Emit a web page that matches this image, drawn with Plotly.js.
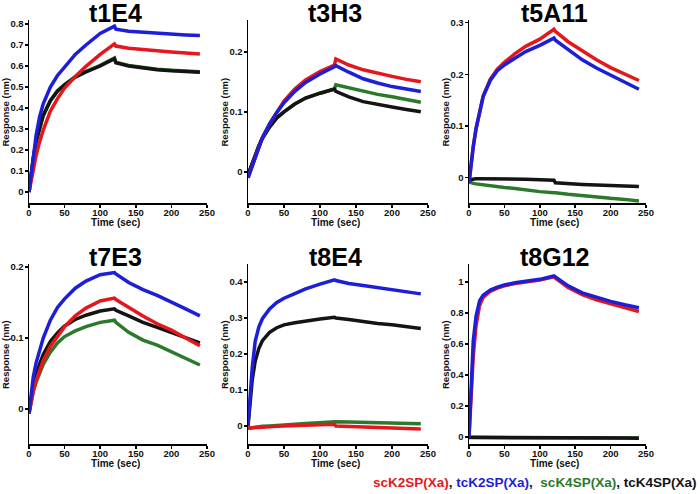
<!DOCTYPE html>
<html>
<head>
<meta charset="utf-8">
<script src="https://cdn.plot.ly/plotly-3.0.1.min.js"></script>
<style>
  body { margin: 0; background: #fff; }
  #plot { width: 700px; height: 494px; }
</style>
</head>
<body>
<div id="plot"></div>
<script>
// sample times (sec), association 0-120, dissociation 120-240
const time = [0, 3, 6, 10, 15, 20, 30, 40, 50, 65, 80, 100, 120, 122, 140, 160, 180, 200, 220, 240];

const panelNames = ['t1E4', 't3H3', 't5A11', 't7E3', 't8E4', 't8G12'];
const seriesNames = ['scK2SP(Xa)', 'tcK2SP(Xa)', 'scK4SP(Xa)', 'tcK4SP(Xa)'];

// one row per panel, in panelNames order
const scK2SP = [
  [0, 0.055, 0.11, 0.175, 0.24, 0.295, 0.385, 0.445, 0.495, 0.55, 0.598, 0.655, 0.705, 0.695, 0.685, 0.678, 0.672, 0.667, 0.662, 0.657],
  [-0.01, 0.0, 0.012, 0.027, 0.043, 0.057, 0.08, 0.10, 0.118, 0.138, 0.153, 0.167, 0.178, 0.188, 0.178, 0.17, 0.164, 0.159, 0.154, 0.15],
  [-0.01, 0.03, 0.06, 0.095, 0.13, 0.158, 0.19, 0.21, 0.223, 0.24, 0.254, 0.268, 0.287, 0.283, 0.263, 0.245, 0.228, 0.213, 0.2, 0.188],
  [-0.006, 0.01, 0.025, 0.04, 0.055, 0.068, 0.088, 0.103, 0.116, 0.131, 0.142, 0.152, 0.156, 0.154, 0.143, 0.131, 0.12, 0.111, 0.1, 0.089],
  [-0.006, -0.005, -0.005, -0.004, -0.004, -0.003, -0.002, -0.001, 0.0, 0.001, 0.002, 0.004, 0.005, 0.0, -0.001, -0.002, -0.003, -0.004, -0.006, -0.008],
  [0, 0.22, 0.52, 0.72, 0.85, 0.9, 0.94, 0.96, 0.975, 0.99, 1.0, 1.012, 1.033, 1.025, 0.965, 0.918, 0.885, 0.86, 0.835, 0.81]
];
const tcK2SP = [
  [0, 0.09, 0.17, 0.27, 0.36, 0.42, 0.50, 0.555, 0.595, 0.655, 0.70, 0.755, 0.79, 0.775, 0.765, 0.76, 0.755, 0.752, 0.748, 0.745],
  [-0.01, 0.0, 0.012, 0.027, 0.043, 0.057, 0.08, 0.099, 0.115, 0.134, 0.149, 0.163, 0.175, 0.177, 0.166, 0.155, 0.148, 0.142, 0.138, 0.134],
  [-0.01, 0.03, 0.06, 0.095, 0.13, 0.157, 0.188, 0.207, 0.218, 0.232, 0.244, 0.256, 0.27, 0.266, 0.247, 0.228, 0.212, 0.198, 0.184, 0.171],
  [-0.006, 0.02, 0.045, 0.065, 0.085, 0.10, 0.125, 0.143, 0.155, 0.17, 0.18, 0.189, 0.192, 0.19, 0.178, 0.168, 0.16, 0.151, 0.141, 0.131],
  [0, 0.09, 0.165, 0.235, 0.275, 0.298, 0.325, 0.343, 0.355, 0.368, 0.381, 0.394, 0.406, 0.404, 0.396, 0.39, 0.384, 0.378, 0.372, 0.367],
  [0, 0.3, 0.62, 0.78, 0.88, 0.915, 0.948, 0.967, 0.981, 0.995, 1.005, 1.017, 1.039, 1.032, 0.975, 0.93, 0.9, 0.875, 0.853, 0.834]
];
const scK4SP = [
  [0, 0.09, 0.16, 0.24, 0.31, 0.365, 0.435, 0.482, 0.512, 0.55, 0.574, 0.603, 0.638, 0.618, 0.603, 0.593, 0.585, 0.58, 0.576, 0.573],
  [-0.005, 0.005, 0.015, 0.028, 0.043, 0.056, 0.075, 0.09, 0.10, 0.113, 0.123, 0.131, 0.138, 0.145, 0.14, 0.134, 0.129, 0.125, 0.12, 0.116],
  [-0.008, -0.01, -0.011, -0.012, -0.013, -0.014, -0.015, -0.017, -0.019, -0.021, -0.024, -0.027, -0.029, -0.029, -0.032, -0.035, -0.037, -0.04, -0.042, -0.045],
  [-0.006, 0.01, 0.025, 0.038, 0.052, 0.063, 0.08, 0.093, 0.102, 0.11, 0.116, 0.122, 0.125, 0.122, 0.108, 0.097, 0.09, 0.081, 0.071, 0.062],
  [-0.006, -0.005, -0.004, -0.003, -0.002, -0.001, 0.0, 0.002, 0.003, 0.005, 0.007, 0.01, 0.012, 0.012, 0.011, 0.01, 0.009, 0.008, 0.007, 0.006],
  [-0.003, -0.003, -0.003, -0.003, -0.003, -0.003, -0.003, -0.003, -0.003, -0.003, -0.003, -0.004, -0.004, -0.004, -0.004, -0.005, -0.005, -0.006, -0.006, -0.007]
];
const tcK4SP = [
  [0, 0.09, 0.16, 0.24, 0.31, 0.365, 0.435, 0.48, 0.51, 0.547, 0.572, 0.60, 0.635, 0.615, 0.60, 0.59, 0.582, 0.577, 0.573, 0.57],
  [-0.005, 0.005, 0.015, 0.028, 0.043, 0.056, 0.075, 0.09, 0.10, 0.113, 0.123, 0.131, 0.138, 0.134, 0.125, 0.117, 0.112, 0.108, 0.104, 0.10],
  [-0.004, -0.003, -0.002, -0.002, -0.002, -0.002, -0.002, -0.002, -0.003, -0.003, -0.003, -0.004, -0.005, -0.01, -0.012, -0.013, -0.014, -0.015, -0.016, -0.017],
  [-0.006, 0.015, 0.035, 0.05, 0.065, 0.077, 0.095, 0.107, 0.117, 0.126, 0.132, 0.138, 0.141, 0.139, 0.131, 0.122, 0.115, 0.108, 0.1, 0.093],
  [0, 0.07, 0.13, 0.18, 0.215, 0.237, 0.26, 0.273, 0.281, 0.287, 0.292, 0.297, 0.302, 0.3, 0.296, 0.29, 0.285, 0.281, 0.276, 0.271],
  [-0.002, -0.002, -0.002, -0.002, -0.002, -0.002, -0.002, -0.002, -0.002, -0.003, -0.003, -0.003, -0.003, -0.004, -0.004, -0.005, -0.005, -0.006, -0.007, -0.008]
];

const yRanges = [[-0.052, 0.819], [-0.052, 0.253], [-0.049, 0.305], [-0.049, 0.204], [-0.05, 0.45], [-0.045, 1.116]];
const yDticks = [0.1, 0.1, 0.1, 0.1, 0.1, 0.2];

const colors = { sc2: '#e4181c', tc2: '#1c1ed8', sc4: '#2b7a2b', tc4: '#141414' };

// pixel boxes of each plot area [left, right, top, bottom]
const W = 700, H = 494;
const boxes = [
  [29, 207, 20, 203], [248, 428, 20, 203], [469, 646, 20, 203],
  [29, 207, 264, 444], [248, 428, 264, 444], [469, 646, 264, 444]
];

const data = [];
const layout = {
  width: W, height: H,
  margin: { l: 0, r: 0, t: 0, b: 0 },
  paper_bgcolor: '#fff', plot_bgcolor: '#fff',
  showlegend: false,
  font: { family: 'Liberation Sans, Arial, sans-serif', color: '#111' },
  annotations: []
};

const labelFont = { size: 9.5, weight: 'bold', color: '#111' };

panelNames.forEach((name, i) => {
  const n = i === 0 ? '' : String(i + 1);
  const xa = 'x' + n, ya = 'y' + n;
  // draw order: green, black, red, blue on top
  const order = [
    [scK4SP[i], colors.sc4, seriesNames[2]],
    [tcK4SP[i], colors.tc4, seriesNames[3]],
    [scK2SP[i], colors.sc2, seriesNames[0]],
    [tcK2SP[i], colors.tc2, seriesNames[1]]
  ];
  order.forEach(([vals, col, label]) => {
    data.push({
      x: time, y: vals, xaxis: xa, yaxis: ya,
      type: 'scatter', mode: 'lines', name: label,
      line: { color: col, width: 3.5 },
      hoverinfo: 'skip'
    });
  });

  const [l, r, t, b] = boxes[i];
  layout['xaxis' + n] = {
    domain: [l / W, r / W], anchor: ya,
    range: [0, 250], tickvals: [0, 50, 100, 150, 200, 250],
    showline: true, linecolor: '#000', linewidth: 1.5,
    ticks: 'outside', ticklen: 3, tickwidth: 1.5, tickcolor: '#000',
    ticklabelstandoff: -3,
    showgrid: false, zeroline: false,
    tickfont: labelFont
  };
  layout['yaxis' + n] = {
    domain: [1 - b / H, 1 - t / H], anchor: xa,
    range: yRanges[i], dtick: yDticks[i], tick0: 0,
    showline: true, linecolor: '#000', linewidth: 1.5,
    ticks: 'outside', ticklen: 3, tickwidth: 1.5, tickcolor: '#000',
    ticklabelstandoff: -1,
    showgrid: false, zeroline: false,
    tickfont: labelFont
  };
  // panel title
  layout.annotations.push({
    text: '<b>' + name + '</b>', xref: 'paper', yref: 'paper',
    x: ((l + r) / 2 - 3) / W, y: 1 - (t - 7) / H,
    xanchor: 'center', yanchor: 'middle',
    showarrow: false, font: { size: 25, color: '#000' }
  });
  // axis titles
  layout.annotations.push({
    text: 'Time (sec)', xref: 'paper', yref: 'paper',
    x: ((l + r) / 2 - 3) / W, y: 1 - (b + 19) / H,
    xanchor: 'center', yanchor: 'middle',
    showarrow: false, font: { size: 10, weight: 'bold', color: '#111' }
  });
  layout.annotations.push({
    text: 'Response (nm)', xref: 'paper', yref: 'paper',
    x: (l - 24) / W, y: 1 - ((t + b) / 2 + 1) / H,
    xanchor: 'center', yanchor: 'middle', textangle: -90,
    showarrow: false, font: { size: 9.5, weight: 'bold', color: '#111' }
  });
});

layout.annotations.push({
  text: '<b><span style="color:' + colors.sc2 + '">' + seriesNames[0] + '</span>, ' +
        '<span style="color:' + colors.tc2 + '">' + seriesNames[1] + '</span>,  ' +
        '<span style="color:' + colors.sc4 + '">' + seriesNames[2] + '</span>, ' +
        '<span style="color:' + colors.tc4 + '">' + seriesNames[3] + '</span></b>',
  xref: 'paper', yref: 'paper', x: 698 / W, y: 1 - 482 / H,
  xanchor: 'right', yanchor: 'middle', showarrow: false,
  font: { size: 13.5, color: '#141414' }
});

Plotly.newPlot('plot', data, layout, { displayModeBar: false, staticPlot: true });
</script>
</body>
</html>
